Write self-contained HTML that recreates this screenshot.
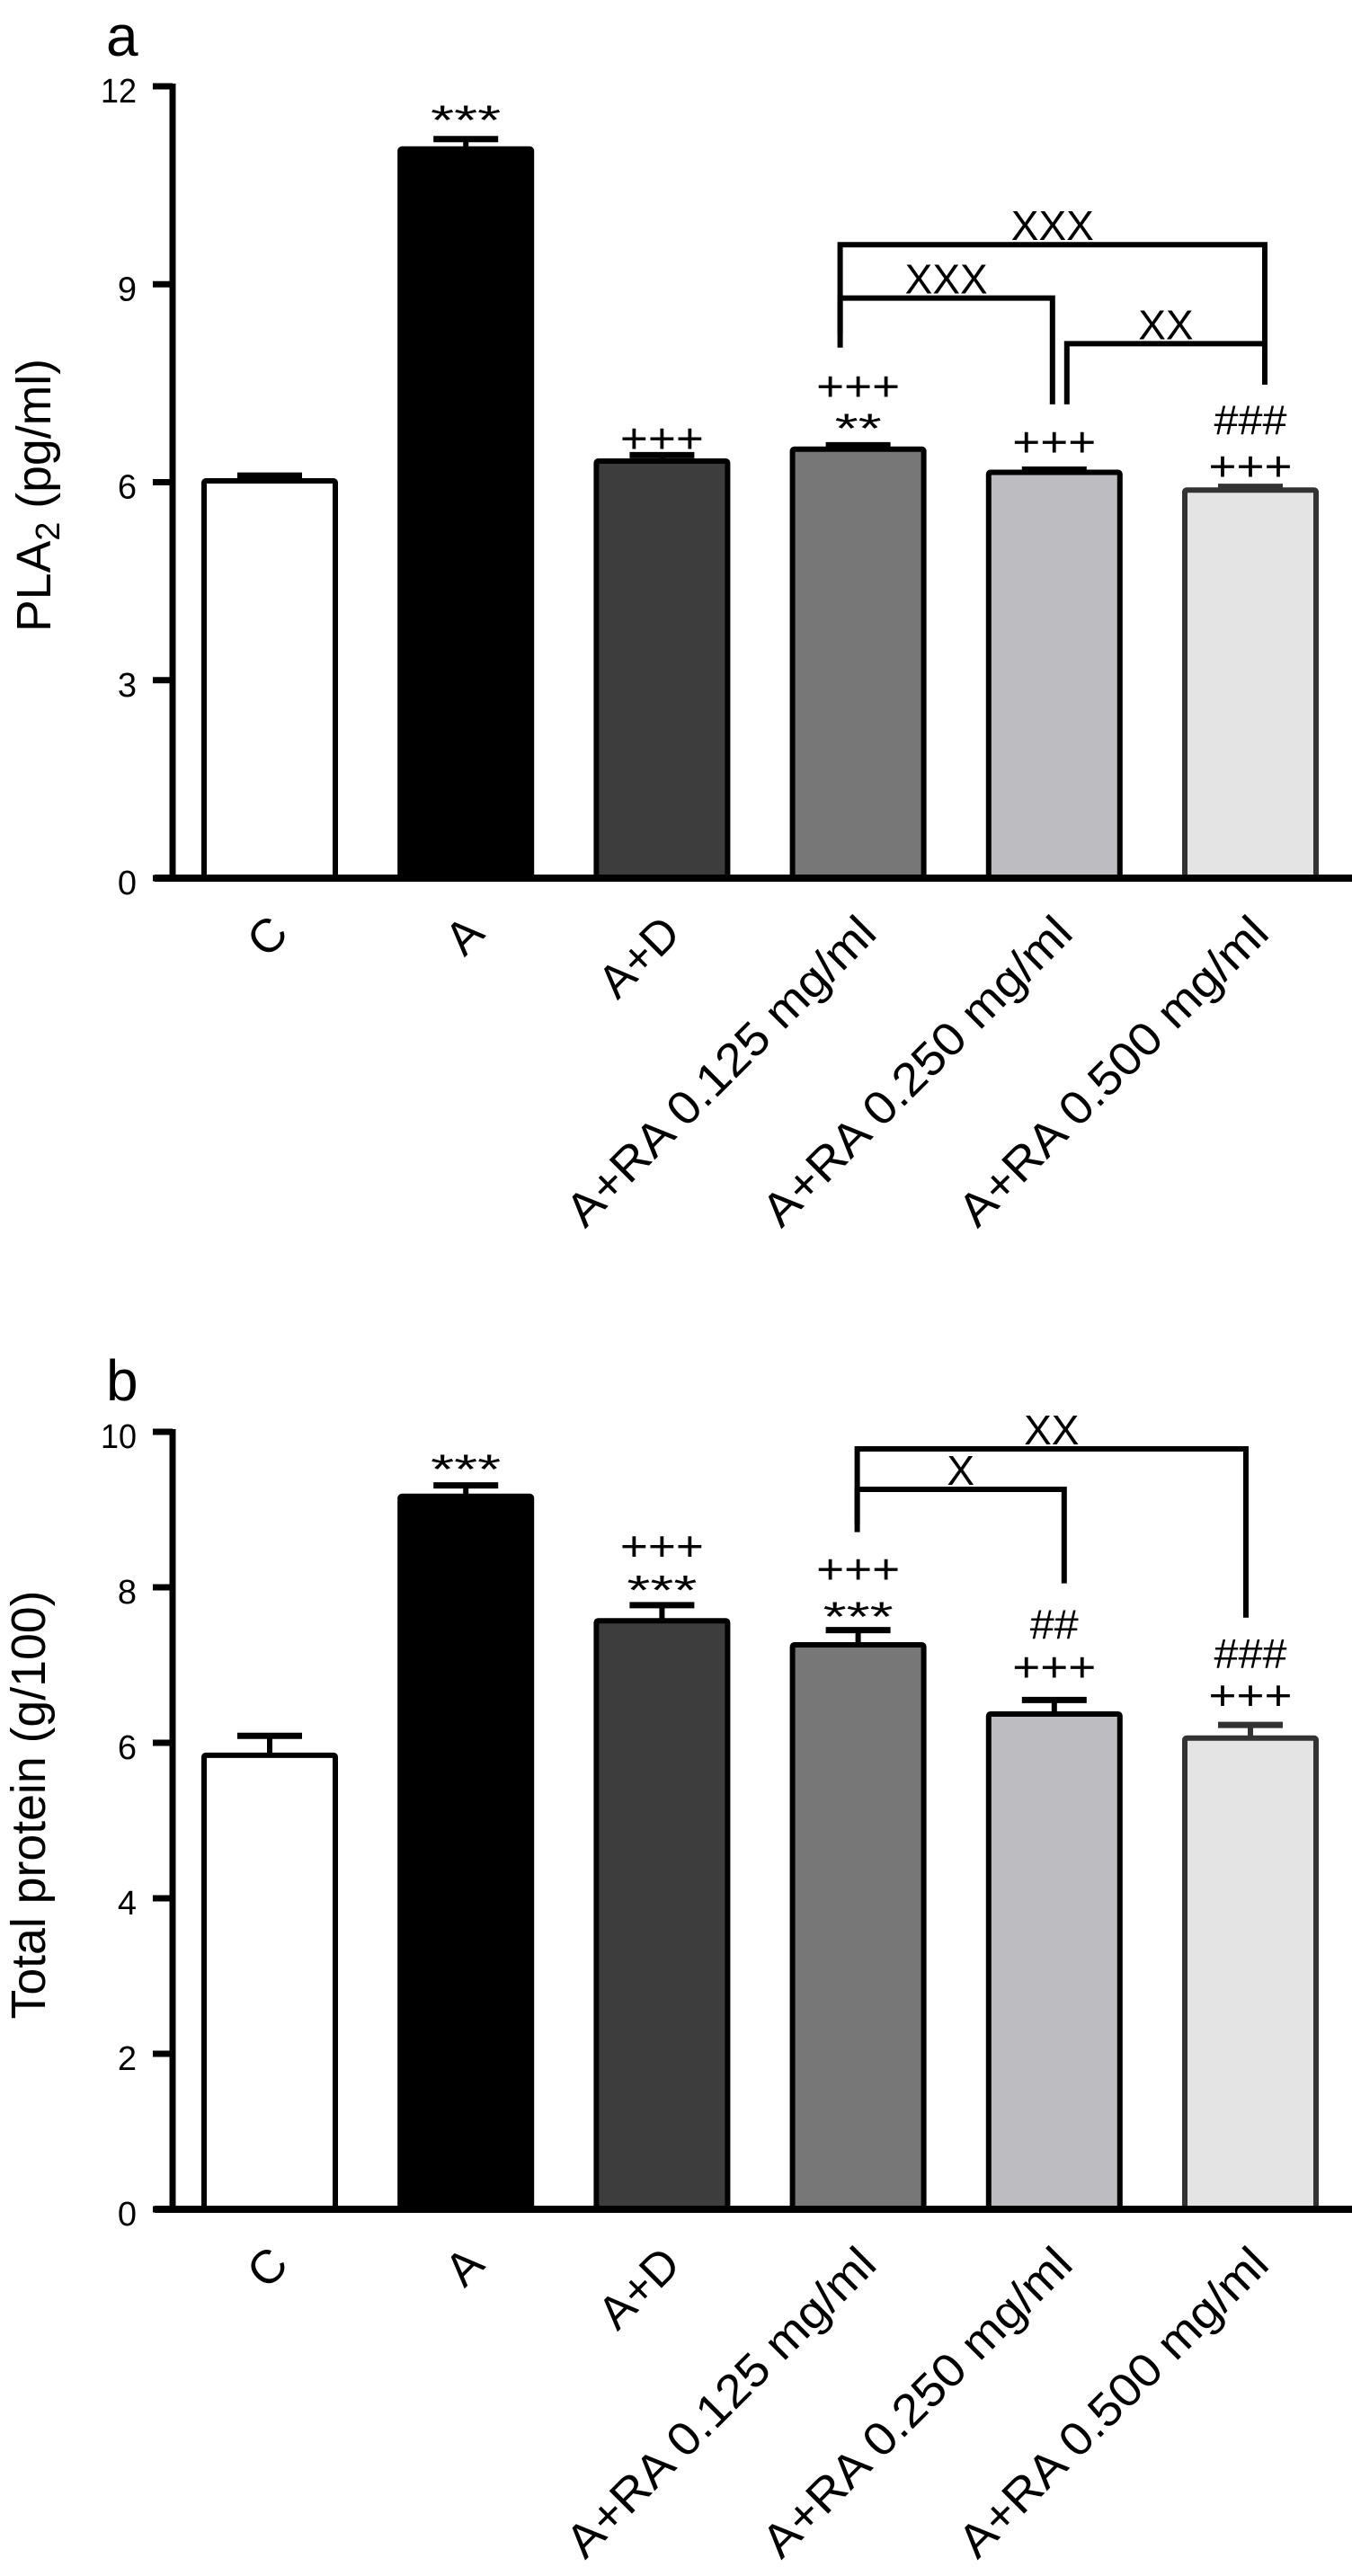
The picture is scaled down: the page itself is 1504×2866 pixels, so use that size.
<!DOCTYPE html>
<html><head><meta charset="utf-8"><style>
html,body{margin:0;padding:0;background:#fff;}
svg{display:block;font-family:"Liberation Sans",Arial,sans-serif;}
</style></head><body>
<svg id="fig" width="1504" height="2866" viewBox="0 0 1504 2866" xmlns="http://www.w3.org/2000/svg"></svg>
<script>
// ---------- data ----------
const categories = ["C","A","A+D","A+RA 0.125 mg/ml","A+RA 0.250 mg/ml","A+RA 0.500 mg/ml"];
const fills = ["#ffffff","#000000","#3d3d3d","#777777","#bdbdc1","#e4e4e4"];
const strokes = ["#000","#000","#000","#000","#000","#333"];
// panel a: PLA2 (pg/ml)
const pla2Means = [6.02, 11.05, 6.32, 6.50, 6.15, 5.88];
const pla2Errors = [0.08, 0.15, 0.09, 0.06, 0.04, 0.05];
const pla2Ticks = [0, 3, 6, 9, 12];
const pla2Annot = [[], [["***",5]], [["+++",3]], [["+++",50],["**",3]], [["+++",15]], [["###",58],["+++",7]]];
const pla2Brackets = [[3,5,9.6,8.24,7.48,"XXX"],[3,4,8.79,8.04,7.18,"XXX"],[4,5,8.10,7.18,7.48,"XX"]];
// panel b: Total protein (g/100)
const protMeans = [5.84, 9.17, 7.57, 7.26, 6.37, 6.06];
const protErrors = [0.25, 0.14, 0.20, 0.19, 0.18, 0.17];
const protTicks = [0, 2, 4, 6, 8, 10];
const protAnnot = [[], [["***",2]], [["+++",50],["***",1]], [["+++",52],["***",-1]], [["##",68],["+++",21]], [["###",63],["+++",17]]];
const protBrackets = [[3,5,9.78,8.82,7.61,"XX"],[3,4,9.26,8.71,8.05,"X"]];

const NS = "http://www.w3.org/2000/svg";
const svg = document.getElementById("fig");
function mk(tag, attrs, parent){
  const e = document.createElementNS(NS, tag);
  for (const k in attrs) e.setAttribute(k, attrs[k]);
  (parent||svg).appendChild(e);
  return e;
}
const bracketOffsets = {"3L":[-20,-1],"4L":[14,20],"4R":[-2,11],"5R":[16,-5]};

function drawPanel(cfg){
  const g = mk("g", {});
  
  
  const yMax = cfg.ticks[cfg.ticks.length-1];
  const y = v => cfg.y0 - (v / yMax) * (cfg.y0 - cfg.yTop);
  const xc = i => 300 + i * 218.2;
  const bw = 146;
  const L = mk("text", {x:118, y:cfg.letterY, "font-size":64}, g);
  L.textContent = cfg.letter;
  
  
  const t = mk("text", {x:0, y:0, "font-size":54, "text-anchor":"middle",
    transform:`translate(${cfg.titleX},${cfg.titleY}) rotate(-90)`, textLength:cfg.titleLen, lengthAdjust:"spacingAndGlyphs"}, g);
  t.innerHTML = cfg.title;
  
  
  categories.forEach((c,i)=>{
    const top = y(cfg.means[i]);
    const eb = y(cfg.means[i] + cfg.errors[i]);
    const el = mk("line", {x1:xc(i), x2:xc(i), y1:top, y2:eb, stroke:strokes[i], "stroke-width":6}, g);
    
    
    const cap = mk("line", {x1:xc(i)-36, x2:xc(i)+36, y1:eb, y2:eb, stroke:strokes[i], "stroke-width":7}, g);
    
    
    const r = mk("rect", {x:xc(i)-bw/2, y:top, width:bw, height:cfg.y0-top, fill:fills[i], stroke:strokes[i], "stroke-width":6, rx:2}, g);
    
    
    cfg.annot[i].forEach(a=>{
      const tx = mk("text", {x:xc(i), y:eb - a[1], "font-size":46, "text-anchor":"middle",
        textLength: a[0].length*(a[0][0]=="#"?27:(a[0][0]=="*"?26:31)), lengthAdjust:"spacingAndGlyphs"}, g);
      tx.textContent = a[0];
      
      
    });
    const lx = xc(i)+23, ly = cfg.y0 + 64;
    const lab = mk("text", {x:lx, y:ly, "font-size":52, "text-anchor":"end",
      transform:`rotate(-45 ${lx} ${ly})`}, g);
    lab.textContent = c;
    if (c.length > 10) { lab.setAttribute("textLength", 462); lab.setAttribute("lengthAdjust","spacingAndGlyphs"); }
    
    
  });
  cfg.brackets.forEach(b=>{
    const lo = bracketOffsets[b[0]+"L"], ro = bracketOffsets[b[1]+"R"];
    const x1 = xc(b[0]) + (cfg.letter=="a"?lo[0]:lo[1]);
    const x2 = xc(b[1]) + (cfg.letter=="a"?ro[0]:ro[1]);
    const p = mk("path", {d:`M${x1},${y(b[3])} V${y(b[2])} H${x2} V${y(b[4])}`, fill:"none", stroke:"#000", "stroke-width":6}, g);
    
    
    const bt = mk("text", {x:(x1+x2)/2, y:y(b[2])-5, "font-size":46, "text-anchor":"middle"}, g);
    bt.textContent = b[5];
    
    
  });
  const ax = mk("line", {x1:192, x2:192, y1:cfg.yTop-3, y2:cfg.y0+4, stroke:"#000", "stroke-width":7}, g);
  
  
  const bx = mk("line", {x1:172, x2:1504, y1:cfg.y0, y2:cfg.y0, stroke:"#000", "stroke-width":8}, g);
  
  
  cfg.ticks.forEach(v=>{
    const tk = mk("line", {x1:170, x2:192, y1:y(v), y2:y(v), stroke:"#000", "stroke-width":7}, g);
    
    
    const tl = mk("text", {x:152, y:y(v)+18, "font-size":38, "text-anchor":"end"}, g);
    tl.textContent = v;
    if (String(v).length > 1) { tl.setAttribute("textLength", 40); tl.setAttribute("lengthAdjust","spacingAndGlyphs"); }
    
    
  });
}

drawPanel({name:"panel-a-pla2", letter:"a", letterY:62, y0:977, yTop:96, ticks:pla2Ticks,
  means:pla2Means, errors:pla2Errors, annot:pla2Annot, brackets:pla2Brackets,
  title:'PLA<tspan font-size="38" dy="10">2</tspan><tspan dy="-10"> (pg/ml)</tspan>', titleX:56, titleY:551, titleLen:304});
drawPanel({name:"panel-b-total-protein", letter:"b", letterY:1558, y0:2458, yTop:1593, ticks:protTicks,
  means:protMeans, errors:protErrors, annot:protAnnot, brackets:protBrackets,
  title:'Total protein (g/100)', titleX:50, titleY:2008, titleLen:477});
</script>
</body></html>
